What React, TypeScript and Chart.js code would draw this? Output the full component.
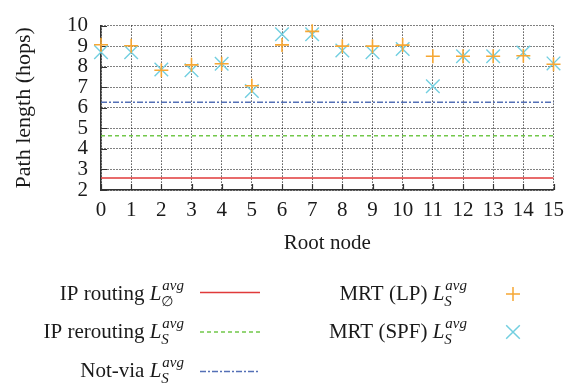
import React, { useEffect, useRef } from 'react';
import { Chart, registerables } from 'chart.js';

Chart.register(...registerables);

// ---- data ----
const rootNodes = ['0', '1', '2', '3', '4', '5', '6', '7', '8', '9', '10', '11', '12', '13', '14', '15'];
const mrtLp = [9.07, 9.02, 7.83, 8.09, 8.14, 7.07, 9.06, 9.72, 9.0, 9.0, 9.05, 8.51, 8.51, 8.51, 8.53, 8.12];
const mrtSpf = [8.71, 8.7, 7.86, 7.83, 8.14, 6.82, 9.58, 9.58, 8.79, 8.7, 8.86, 7.05, 8.51, 8.51, 8.69, 8.16];
const ipRouting = 2.58;
const ipRerouting = 4.64;
const notVia = 6.27;
const yMin = 2;
const yMax = 10;
const yStep = 1;

const FONT = '"Liberation Serif", "Times New Roman", serif';
const TEXT = '#1a1a1a';
const RED = '#e03a3a';
const GREEN = '#72c84a';
const BLUE = '#5470b6';
const ORANGE = '#f6a733';
const CYAN = '#72cfe0';

type LegendEntry = {
  label: string;
  sub: string;
  color: string;
  kind: 'line' | 'plus' | 'cross';
  dash: number[];
};

const legendCol1: LegendEntry[] = [
  { label: 'IP routing', sub: '∅', color: RED, kind: 'line', dash: [] },
  { label: 'IP rerouting', sub: 'S', color: GREEN, kind: 'line', dash: [4, 3] },
  { label: 'Not-via', sub: 'S', color: BLUE, kind: 'line', dash: [6, 2, 2, 2] },
];
const legendCol2: LegendEntry[] = [
  { label: 'MRT (LP)', sub: 'S', color: ORANGE, kind: 'plus', dash: [] },
  { label: 'MRT (SPF)', sub: 'S', color: CYAN, kind: 'cross', dash: [] },
];

function drawMathLabel(ctx: CanvasRenderingContext2D, rightX: number, baseline: number, text: string, sub: string) {
  const mainFont = `21px ${FONT}`;
  const italFont = `italic 21px ${FONT}`;
  const supFont = `italic 15px ${FONT}`;
  const subFont = sub === 'S' ? `italic 15px ${FONT}` : `14px "DejaVu Sans", ${FONT}`;
  ctx.font = supFont;
  const wSup = ctx.measureText('avg').width;
  ctx.font = subFont;
  const wSub = ctx.measureText(sub).width;
  const scriptW = Math.max(wSup, wSub);
  ctx.font = italFont;
  const wL = ctx.measureText('L').width;
  ctx.font = mainFont;
  const wT = ctx.measureText(text + ' ').width;
  let x = rightX - scriptW - wL - 1 - wT;
  ctx.fillStyle = TEXT;
  ctx.textAlign = 'left';
  ctx.textBaseline = 'alphabetic';
  ctx.fillText(text + ' ', x, baseline);
  x += wT;
  ctx.font = italFont;
  ctx.fillText('L', x, baseline);
  x += wL + 1;
  ctx.font = supFont;
  ctx.fillText('avg', x, baseline - 10);
  ctx.font = subFont;
  ctx.fillText(sub, x - 1, baseline + 6);
}

function drawSample(ctx: CanvasRenderingContext2D, e: LegendEntry, x0: number, x1: number, y: number) {
  ctx.save();
  ctx.strokeStyle = e.color;
  ctx.lineWidth = 1.5;
  ctx.setLineDash(e.dash);
  ctx.beginPath();
  if (e.kind === 'line') {
    ctx.moveTo(x0, y);
    ctx.lineTo(x1, y);
  } else {
    const cx = (x0 + x1) / 2;
    if (e.kind === 'plus') {
      const r = 7;
      ctx.moveTo(cx - r, y);
      ctx.lineTo(cx + r, y);
      ctx.moveTo(cx, y - r);
      ctx.lineTo(cx, y + r);
    } else {
      const r = 6.8;
      ctx.moveTo(cx - r, y - r);
      ctx.lineTo(cx + r, y + r);
      ctx.moveTo(cx + r, y - r);
      ctx.lineTo(cx - r, y + r);
    }
  }
  ctx.stroke();
  ctx.restore();
}

const legendPlugin = {
  id: 'mathLegend',
  afterDraw(chart: Chart) {
    const ctx = chart.ctx;
    const rows = [300, 338, 377];
    const sampleOffset = [-7.5, -6, -5.5];
    ctx.save();
    legendCol1.forEach((e, i) => {
      drawMathLabel(ctx, 184, rows[i], e.label, e.sub);
      drawSample(ctx, e, 200, 260, rows[i] + sampleOffset[i]);
    });
    legendCol2.forEach((e, i) => {
      drawMathLabel(ctx, 467, rows[i], e.label, e.sub);
      drawSample(ctx, e, 503, 523, rows[i] - 6);
    });
    ctx.restore();
  },
};

const innerTicksPlugin = {
  id: 'innerTicks',
  beforeDatasetsDraw(chart: Chart) {
    const ctx = chart.ctx;
    const xs = chart.scales.x;
    const ys = chart.scales.y;
    const { left, bottom } = chart.chartArea;
    ctx.save();
    ctx.strokeStyle = '#333';
    ctx.lineWidth = 1.2;
    ctx.beginPath();
    xs.ticks.forEach((_, i) => {
      const px = Math.round(xs.getPixelForTick(i)) + 0.5;
      ctx.moveTo(px, bottom);
      ctx.lineTo(px, bottom - 6);
    });
    ys.ticks.forEach((_, i) => {
      const py = Math.round(ys.getPixelForTick(i)) + 0.5;
      ctx.moveTo(left, py);
      ctx.lineTo(left + 6, py);
    });
    ctx.stroke();
    ctx.restore();
  },
};

export default function App() {
  const canvasRef = useRef<HTMLCanvasElement | null>(null);

  useEffect(() => {
    document.body.style.margin = '0';
    const canvas = canvasRef.current;
    if (!canvas) return;
    const hline = (value: number) => rootNodes.map(() => value);
    const chart = new Chart(canvas, {
      type: 'line',
      data: {
        labels: rootNodes,
        datasets: [
          { label: 'IP routing', data: hline(ipRouting), borderColor: RED, borderWidth: 1.5, pointRadius: 0, fill: false },
          { label: 'IP rerouting', data: hline(ipRerouting), borderColor: GREEN, borderWidth: 1.5, borderDash: [4, 3], pointRadius: 0, fill: false },
          { label: 'Not-via', data: hline(notVia), borderColor: BLUE, borderWidth: 1.5, borderDash: [6, 2, 2, 2], pointRadius: 0, fill: false },
          { label: 'MRT (LP)', data: mrtLp, showLine: false, pointStyle: 'cross', pointRadius: 7, pointBorderWidth: 1.6, borderColor: ORANGE, pointBorderColor: ORANGE, clip: false },
          { label: 'MRT (SPF)', data: mrtSpf, showLine: false, pointStyle: 'crossRot', pointRadius: 9.6, pointBorderWidth: 1.4, borderColor: CYAN, pointBorderColor: CYAN, clip: false },
        ] as any,
      },
      options: {
        animation: false,
        responsive: false,
        events: [],
        layout: { padding: { top: 14, right: 15, left: 0, bottom: 0 } },
        plugins: { legend: { display: false }, tooltip: { enabled: false } },
        scales: {
          x: {
            type: 'category',
            offset: false,
            grid: { color: '#000', lineWidth: 1, drawTicks: false },
            border: { display: true, color: '#333', width: 1.5, dash: [1, 2] },
            ticks: { padding: 8, color: TEXT, font: { family: FONT, size: 21 }, maxRotation: 0, autoSkip: false },
            title: { display: true, text: 'Root node', color: TEXT, font: { family: FONT, size: 21 }, padding: { top: 0, bottom: 135 } },
            afterFit: (s: any) => { s.height = 201; },
          },
          y: {
            min: yMin,
            max: yMax,
            grid: { color: '#000', lineWidth: 1, drawTicks: false },
            border: { display: true, color: '#333', width: 1.5, dash: [1, 2] },
            ticks: { stepSize: yStep, autoSkip: false, padding: 13, color: TEXT, font: { family: FONT, size: 21 } },
            title: { display: true, text: 'Path length (hops)', color: TEXT, font: { family: FONT, size: 22 }, padding: { top: 11, bottom: 0 } },
            afterFit: (s: any) => { s.width = 101; },
          },
        },
      } as any,
      plugins: [innerTicksPlugin, legendPlugin],
    });
    return () => chart.destroy();
  }, []);

  return (
    <div style={{ width: 572, height: 391 }}>
      <canvas ref={canvasRef} width={572} height={391} style={{ display: 'block' }} />
    </div>
  );
}
